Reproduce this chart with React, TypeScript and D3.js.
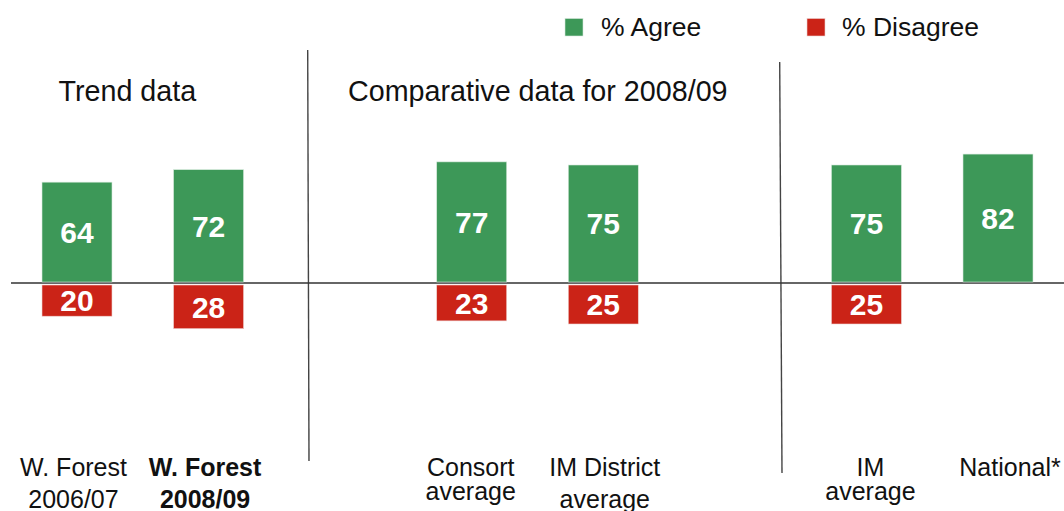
import * as d3 from 'd3';

// chart values
const categories = ['wf0607', 'wf0809', 'consort', 'imDistrict', 'imAvg', 'national'];
const labelTop = ['W. Forest', 'W. Forest', 'Consort', 'IM District', 'IM', 'National*'];
const labelBottom = ['2006/07', '2008/09', 'average', 'average', 'average', ''];
const agree = [64, 72, 77, 75, 75, 82];
const disagree: (number | null)[] = [20, 28, 23, 25, 25, null];
const legendItems = ['% Agree', '% Disagree'];
const panelTitles = ['Trend data', 'Comparative data for 2008/09'];

// the band scale keeps two empty slots where the panels split
const slots = ['wf0607', 'wf0809', 'gap1', 'consort', 'imDistrict', 'gap2', 'imAvg', 'national'];

const WIDTH = 1064;
const HEIGHT = 511;
const GREEN = '#3d9858';
const RED = '#cb2317';
const FONT = '"Liberation Sans", Arial, Helvetica, sans-serif';

// small layout tweaks per label (px)
const labelShift = [-3.5, -3.5, -1, 1.5, 4, 12];
const secondLineY = [508, 508, 500, 508, 499.5, 508];

export default function App() {
  const x = d3.scaleBand<string>().domain(slots).range([42, 1033]).paddingInner(0.468).paddingOuter(0);
  const h = d3.scaleLinear().domain([0, 100]).range([0, 156]);

  const zeroLine = 283;
  const greenBottom = 282;
  const redTop = 285;
  const bw = x.bandwidth();
  const valueSize = 30;
  const capHalf = (valueSize * 0.716) / 2;

  return (
    <svg
      width={WIDTH}
      height={HEIGHT}
      style={{ position: 'fixed', left: 0, top: 0, background: '#fff' }}
      fontFamily={FONT}
    >
      {/* legend */}
      <rect x={565} y={18.5} width={18} height={17.5} fill={GREEN} stroke="#d8e8dc" strokeWidth={0.6} />
      <text x={601} y={35.5} fontSize={26.5} fill="#111">{legendItems[0]}</text>
      <rect x={807} y={18.5} width={18} height={17.5} fill={RED} stroke="#ecd2d0" strokeWidth={0.6} />
      <text x={842} y={35.5} fontSize={26.5} fill="#111">{legendItems[1]}</text>

      {/* panel titles */}
      <text x={58.5} y={100.5} fontSize={28.7} fill="#111">{panelTitles[0]}</text>
      <text x={348} y={100.5} fontSize={28.7} fill="#111">{panelTitles[1]}</text>

      {/* separators */}
      <line x1={307.7} y1={50} x2={309} y2={461} stroke="#444" strokeWidth={1.4} />
      <line x1={779.7} y1={62} x2={782} y2={473} stroke="#444" strokeWidth={1.4} />
      <line x1={11} y1={zeroLine} x2={WIDTH} y2={zeroLine} stroke="#333" strokeWidth={1.4} />

      {categories.map((c, i) => {
        const x0 = x(c) ?? 0;
        const cx = x0 + bw / 2;
        const gh = h(agree[i]);
        const d = disagree[i];
        const rh = d == null ? 0 : h(d);
        const bold = i === 1;
        return (
          <g key={c}>
            <rect x={x0} y={greenBottom - gh} width={bw} height={gh} fill={GREEN} stroke="#d6e9dc" strokeWidth={0.6} />
            <text
              x={cx}
              y={greenBottom - gh / 2 + capHalf}
              textAnchor="middle"
              fontSize={valueSize}
              fontWeight="bold"
              fill="#fff"
            >
              {agree[i]}
            </text>
            {d != null && (
              <>
                <rect x={x0} y={redTop} width={bw} height={rh} fill={RED} stroke="#efd3d0" strokeWidth={0.6} />
                <text
                  x={cx}
                  y={redTop + rh / 2 + capHalf}
                  textAnchor="middle"
                  fontSize={valueSize}
                  fontWeight="bold"
                  fill="#fff"
                >
                  {d}
                </text>
              </>
            )}
            <text
              x={cx + labelShift[i]}
              y={476}
              textAnchor="middle"
              fontSize={25}
              fontWeight={bold ? 'bold' : 'normal'}
              fill="#111"
            >
              {labelTop[i]}
            </text>
            {labelBottom[i] && (
              <text
                x={cx + labelShift[i]}
                y={secondLineY[i]}
                textAnchor="middle"
                fontSize={25}
                fontWeight={bold ? 'bold' : 'normal'}
                fill="#111"
              >
                {labelBottom[i]}
              </text>
            )}
          </g>
        );
      })}
    </svg>
  );
}
